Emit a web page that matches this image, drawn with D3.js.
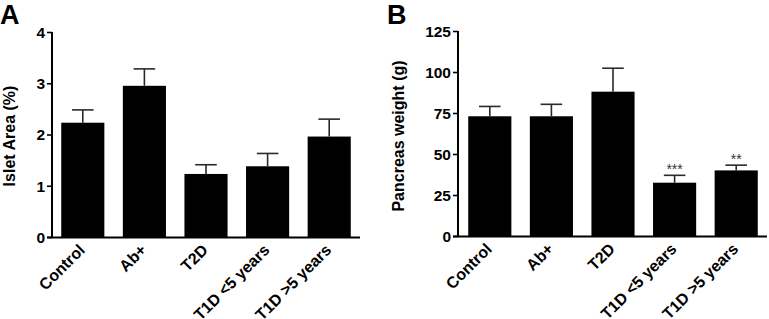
<!DOCTYPE html>
<html><head><meta charset="utf-8">
<script src="https://cdn.jsdelivr.net/npm/d3@7"></script>
<style>
html,body{margin:0;padding:0;background:#fff;}
svg{display:block;font-family:"Liberation Sans",Arial,Helvetica,sans-serif;}
</style></head>
<body>
<svg id="chart" width="769" height="319"></svg>
<script>
const categories = ["Control", "Ab+", "T2D", "T1D <5 years", "T1D >5 years"];
const isletArea = [2.23, 2.95, 1.23, 1.38, 1.96];
const isletAreaErr = [0.25, 0.33, 0.18, 0.25, 0.34];
const isletTicks = [0, 1, 2, 3, 4];
const pancreasWeight = [73, 73, 88, 32.5, 40];
const pancreasWeightErr = [6, 7.3, 14.3, 4.5, 3.2];
const pancreasTicks = [0, 25, 50, 75, 100, 125];
const pancreasSig = ["", "", "", "***", "**"];

const svg = d3.select("#chart");

function panel(opts) {
  const g = svg.append("g");
  const x = d3.scaleBand().domain(categories).range([opts.x0, opts.x1]).paddingInner(0.3).paddingOuter(0.15);
  const y = d3.scaleLinear().domain([0, opts.max]).range([opts.yBottom, opts.yTop]);

  g.selectAll("rect.bar").data(opts.values).join("rect")
    .attr("class", "bar")
    .attr("x", (d, i) => x(categories[i]))
    .attr("width", x.bandwidth())
    .attr("y", d => y(d))
    .attr("height", d => y(0) - y(d))
    .attr("fill", "#000");

  const eb = g.selectAll("g.err").data(opts.values).join("g").attr("class", "err");
  eb.append("line")
    .attr("x1", (d, i) => x(categories[i]) + x.bandwidth() / 2)
    .attr("x2", (d, i) => x(categories[i]) + x.bandwidth() / 2)
    .attr("y1", d => y(d))
    .attr("y2", (d, i) => y(d + opts.errs[i]))
    .attr("stroke", "#2a2a2a").attr("stroke-width", 1.6);
  eb.append("line")
    .attr("x1", (d, i) => x(categories[i]) + x.bandwidth() / 4)
    .attr("x2", (d, i) => x(categories[i]) + 3 * x.bandwidth() / 4)
    .attr("y1", (d, i) => y(d + opts.errs[i]))
    .attr("y2", (d, i) => y(d + opts.errs[i]))
    .attr("stroke", "#2a2a2a").attr("stroke-width", 1.6);

  if (opts.sig) {
    g.selectAll("text.sig").data(opts.values).join("text")
      .attr("class", "sig")
      .attr("x", (d, i) => x(categories[i]) + x.bandwidth() / 2)
      .attr("y", (d, i) => y(d + opts.errs[i]) - 1)
      .attr("text-anchor", "middle")
      .attr("font-size", 14)
      .attr("fill", "#333")
      .text((d, i) => opts.sig[i]);
  }

  const yAxis = d3.axisLeft(y).tickValues(opts.ticks).tickFormat(d3.format("d"))
    .tickSize(5).tickPadding(2).tickSizeOuter(0);
  const ya = g.append("g").attr("transform", `translate(${opts.axisX},0)`).call(yAxis);
  ya.select(".domain").attr("stroke", "#000").attr("stroke-width", 2).attr("d", `M0,${opts.yTop}V${opts.yBottom + 1}`);
  ya.selectAll(".tick line").attr("stroke", "#000").attr("stroke-width", 1.6);
  ya.selectAll(".tick text").attr("font-size", 15.5).attr("font-weight", "bold").attr("fill", "#000")
    .attr("font-family", "'Liberation Sans', Arial, sans-serif").attr("dy", "0.35em");

  g.append("line").attr("x1", opts.axisX - 5).attr("x2", opts.x1).attr("y1", opts.yBottom + 0.5).attr("y2", opts.yBottom + 0.5)
    .attr("stroke", "#000").attr("stroke-width", 2);

  g.selectAll("text.xl").data(categories).join("text")
    .attr("class", "xl")
    .attr("transform", d => `translate(${x(d) + x.bandwidth() / 2 + 3},${opts.yBottom + 14}) rotate(-45)`)
    .attr("text-anchor", "end")
    .attr("font-size", 16).attr("font-weight", "bold")
    .text(d => d);

  g.append("text")
    .attr("transform", `translate(${opts.labelX},${opts.labelY}) rotate(-90)`)
    .attr("text-anchor", "middle")
    .attr("font-size", 16).attr("font-weight", "bold")
    .text(opts.label);

  g.append("text").attr("x", opts.letterX).attr("y", 24)
    .attr("font-size", 27).attr("font-weight", "bold").text(opts.letter);
}

panel({x0: 52, x1: 360, axisX: 52, yTop: 32, yBottom: 237, max: 4,
  values: isletArea, errs: isletAreaErr, ticks: isletTicks,
  label: "Islet Area (%)", labelX: 15, labelY: 136, letter: "A", letterX: 0});

panel({x0: 459, x1: 767, axisX: 458, yTop: 31, yBottom: 236, max: 125,
  values: pancreasWeight, errs: pancreasWeightErr, ticks: pancreasTicks, sig: pancreasSig,
  label: "Pancreas weight (g)", labelX: 404, labelY: 136, letter: "B", letterX: 387});
</script>
</body></html>
